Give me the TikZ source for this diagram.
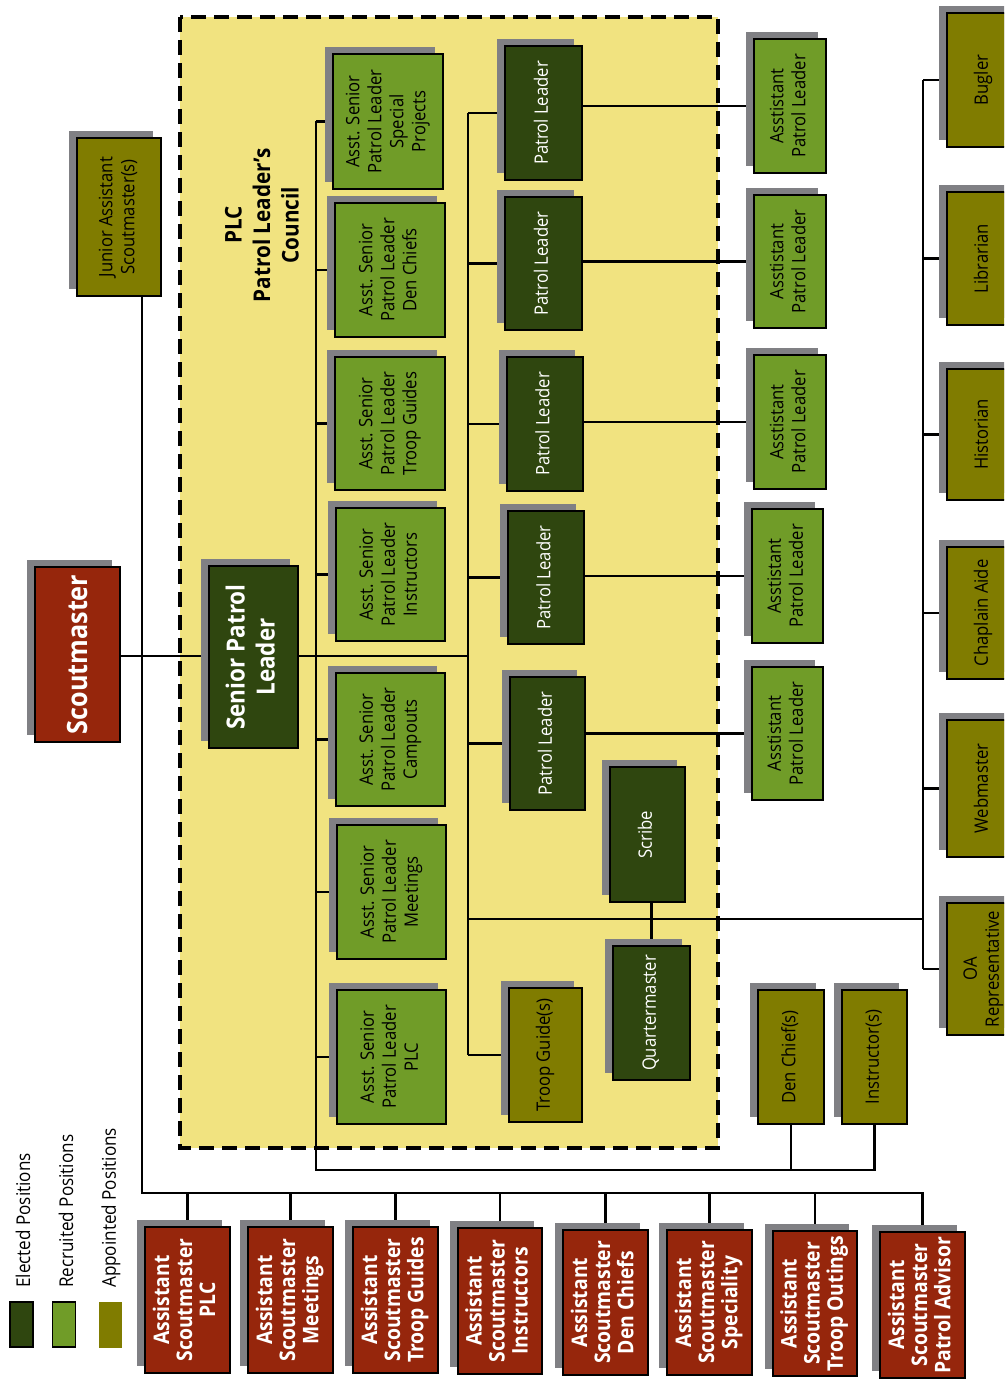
\documentclass[tikz,border=0pt]{standalone}
\usepackage{fontspec}
\setmainfont{Open Sans}[FakeStretch=0.9]
\usetikzlibrary{shadows,calc}
\definecolor{dkg}{RGB}{47,70,15}
\definecolor{ltg}{RGB}{112,156,40}
\definecolor{olv}{RGB}{128,124,0}
\definecolor{rd}{RGB}{150,38,12}
\definecolor{ylw}{RGB}{241,227,128}
\definecolor{shd}{RGB}{128,128,132}
\newcommand\boxfont{\fontsize{18.5}{22}\selectfont}
\newcommand\asmfont{\fontsize{21.5}{23}\selectfont\bfseries}
\newcommand\smfont{\fontsize{28}{32}\selectfont\bfseries}
\newcommand\splfont{\fontsize{25}{30}\selectfont\bfseries}
\newcommand\plcfont{\fontsize{23}{28.5}\selectfont\bfseries}
\newcommand\legfont{\fontsize{19}{22}\selectfont}
\newcommand\bx[7]{\node[#2, minimum width={#5pt-#3pt}, minimum height={#6pt-#4pt}] (#1) at ({(#3+#5)/2},{(#4+#6)/2}) {\rotatebox{90}{\begin{tabular}{@{}c@{}}#7\end{tabular}}};}
\pgfdeclarelayer{back}
\pgfdeclarelayer{lines}
\pgfsetlayers{back,lines,main}
\tikzset{
  posbox/.style={draw=black, line width=1.8pt, inner sep=0pt,
    drop shadow={shadow xshift=-8pt, shadow yshift=7pt, fill=shd, opacity=1}},
  elected/.style={posbox, fill=dkg, text=white, font=\boxfont},
  recruited/.style={posbox, fill=ltg, text=black, font=\boxfont},
  appointed/.style={posbox, fill=olv, text=black, font=\boxfont},
  adult/.style={posbox, fill=rd, text=white, font=\asmfont},
  conn/.style={line width=2.7pt, draw=black},
}
\begin{document}
\begin{tikzpicture}[x=1pt,y=-1pt]
\useasboundingbox (0,0) rectangle (1004,1380);
\clip (0,0) rectangle (1004,1380);

% PLC area
\begin{pgfonlayer}{back}
\fill[white] (0,0) rectangle (1004,1380);
\draw[fill=ylw, draw=black, line width=4pt, dash pattern=on 15pt off 8pt] (180,17) rectangle (718,1148);
\end{pgfonlayer}
\node[font=\plcfont, rotate=90, align=center] (plc) at (262,225) {PLC\\Patrol Leader’s\\Council};

% Adults
\node[posbox, fill=rd, text=white, font=\smfont, minimum width=85pt, minimum height=175pt] (sm) at (77.5,654.5) {\rotatebox{90}{Scoutmaster}};
\bx{jasm}{appointed}{77}{138}{161}{296}{Junior Assistant\\Scoutmaster(s)}

% Senior Patrol Leader
\node[posbox, fill=dkg, text=white, font=\splfont, minimum width=89pt, minimum height=182pt] (spl) at (253.5,657) {\rotatebox{90}{\begin{tabular}{@{}c@{}}Senior Patrol\\Leader\end{tabular}}};

% ASPL column
\bx{sp}{recruited}{333}{54}{443}{189}{Asst. Senior\\Patrol Leader\\Special\\Projects}
\bx{dc}{recruited}{335}{203}{445}{337}{Asst. Senior\\Patrol Leader\\Den Chiefs}
\bx{tgs}{recruited}{335}{357}{445}{490}{Asst. Senior\\Patrol Leader\\Troop Guides}
\bx{ins}{recruited}{336}{508}{445}{641}{Asst. Senior\\Patrol Leader\\Instructors}
\bx{cmp}{recruited}{336}{673}{445}{806}{Asst. Senior\\Patrol Leader\\Campouts}
\bx{mtg}{recruited}{337}{825}{446}{959}{Asst. Senior\\Patrol Leader\\Meetings}
\bx{plca}{recruited}{337}{990}{446}{1124}{Asst. Senior\\Patrol Leader\\PLC}

% Patrol leaders
\bx{pla}{elected}{505}{46}{582}{180}{Patrol Leader}
\bx{plb}{elected}{505}{197}{582}{330}{Patrol Leader}
\bx{plc3}{elected}{507}{357}{583}{491}{Patrol Leader}
\bx{pld}{elected}{508}{511}{584}{644}{Patrol Leader}
\bx{ple}{elected}{510}{677}{585}{810}{Patrol Leader}
\bx{scr}{elected}{610}{767}{685}{902}{Scribe}
\bx{qm}{elected}{613}{946}{690}{1080}{Quartermaster}
\bx{tg}{appointed}{509}{988}{582}{1122}{Troop Guide(s)}

% Assistant patrol leaders
\bx{apa}{recruited}{754}{39}{826}{173}{Asstistant\\Patrol Leader}
\bx{apb}{recruited}{754}{195}{826}{328}{Asstistant\\Patrol Leader}
\bx{apc}{recruited}{754}{355}{826}{489}{Asstistant\\Patrol Leader}
\bx{apd}{recruited}{752}{509}{823}{643}{Asstistant\\Patrol Leader}
\bx{ape}{recruited}{752}{667}{823}{800}{Asstistant\\Patrol Leader}

\bx{dchf}{appointed}{758}{990}{824}{1124}{Den Chief(s)}
\bx{inst}{appointed}{842}{990}{907}{1124}{Instructor(s)}

% Appointed column (right)
\bx{bug}{appointed}{947}{13}{1020}{147}{Bugler}
\bx{lib}{appointed}{947}{192}{1020}{325}{Librarian}
\bx{his}{appointed}{947}{369}{1020}{500}{Historian}
\bx{cha}{appointed}{947}{547}{1020}{679}{Chaplain Aide}
\bx{web}{appointed}{947}{720}{1020}{857}{Webmaster}
\bx{oa}{appointed}{947}{903}{1020}{1035}{OA\\Representative}

% Assistant Scoutmasters
\bx{asa}{adult}{145}{1227}{230}{1373}{Assistant\\Scoutmaster\\PLC}
\bx{asb}{adult}{248}{1227}{333}{1373}{Assistant\\Scoutmaster\\Meetings}
\bx{asc}{adult}{353}{1227}{438}{1373}{Assistant\\Scoutmaster\\Troop Guides}
\bx{asd}{adult}{458}{1228}{542}{1374}{Assistant\\Scoutmaster\\Instructors}
\bx{ase}{adult}{563}{1230}{648}{1375}{Assistant\\Scoutmaster\\Den Chiefs}
\bx{asf}{adult}{667}{1230}{752}{1375}{Assistant\\Scoutmaster\\Speciality}
\bx{asg}{adult}{773}{1231}{857}{1376}{Assistant\\Scoutmaster\\Troop Outings}
\bx{ash}{adult}{880}{1232}{965}{1378}{Assistant\\Scoutmaster\\Patrol Advisor}

% Legend
\node[draw=black, line width=1.5pt, fill=dkg, minimum width=23pt, minimum height=45pt, inner sep=0pt] (lg1) at (21.5,1324.5) {};
\node[draw=black, line width=1.5pt, fill=ltg, minimum width=23pt, minimum height=45pt, inner sep=0pt] (lg2) at (64,1324.5) {};
\node[fill=olv, minimum width=23pt, minimum height=46pt, inner sep=0pt] (lg3) at (110.5,1324.5) {};
\node[font=\legfont, rotate=90, anchor=west, inner sep=0pt] (lt1) at (23,1288) {Elected Positions};
\node[font=\legfont, rotate=90, anchor=west, inner sep=0pt] (lt2) at (66,1288) {Recruited Positions};
\node[font=\legfont, rotate=90, anchor=west, inner sep=0pt] (lt3) at (111,1288) {Appointed Positions};

% Connectors
\coordinate (aB) at (316,1170);
\coordinate (pB) at (468,656);
\coordinate (rB) at (923,919);
\coordinate (jB) at (142,1193);
\begin{pgfonlayer}{lines}
\draw[conn] (sm.east |- pB) -- (spl.west |- pB);
\draw[conn] (spl.east |- pB) -- (pB);
% PL bus
\draw[conn] (pla.west -| pB) -- (tg.west -| pB);
\foreach \n in {pla,plb,plc3,pld,ple,tg} \draw[conn] (\n.west) -- (\n.west -| pB);
% ASPL bus
\draw[conn] (sp.west -| aB) -- (aB) -- (aB -| inst.south) -- (inst.south);
\draw[conn] (dchf.south) -- (dchf.south |- aB);
\foreach \n in {sp,dc,tgs,ins,cmp,mtg,plca} \draw[conn] (\n.west) -- (\n.west -| aB);
% PL to APL
\draw[conn] (apa.west) -- (apa.west -| pla.east);
\draw[conn] (apb.west) -- (apb.west -| plb.east);
\draw[conn] (apc.west) -- (apc.west -| plc3.east);
\draw[conn] (apd.west) -- (apd.west -| pld.east);
\draw[conn] (ape.west) -- (ape.west -| ple.east);
% Scribe / QM
\draw[conn] (qm.north) -- (qm.north |- scr.south);
% to appointed column
\draw[conn] (pB |- rB) -- (rB);
\draw[conn] (bug.west -| rB) -- (oa.west -| rB);
\foreach \n in {bug,lib,his,cha,web,oa} \draw[conn] (\n.west) -- (\n.west -| rB);
% JASM and ASMs
\draw[conn] (jB |- jasm.south) -- (jB) -- (jB -| ash.north) -- (ash.north);
\foreach \n in {asa,asb,asc,asd,ase,asf,asg} \draw[conn] (\n.north) -- (\n.north |- jB);
\end{pgfonlayer}
\end{tikzpicture}
\end{document}
